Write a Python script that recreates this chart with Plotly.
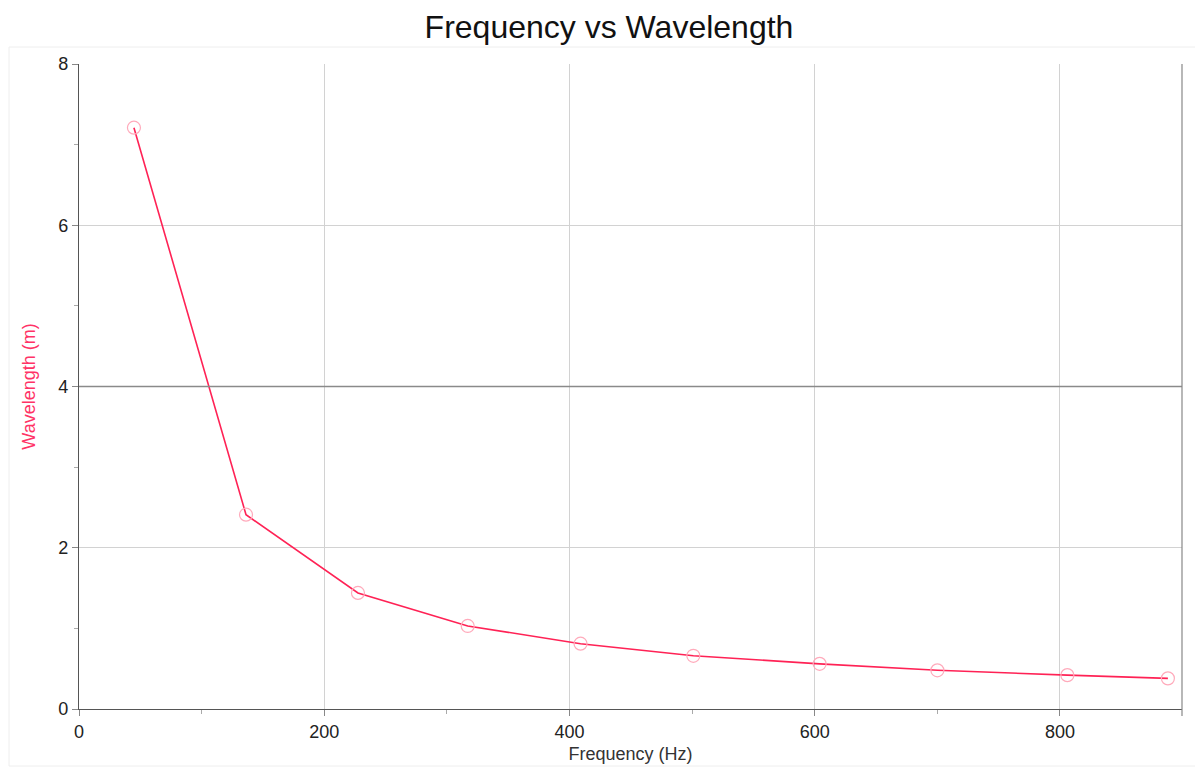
import plotly.graph_objects as go

frequency_hz = [44.8, 136.2, 227.5, 317, 409, 501, 604, 700, 806, 888]
wavelength_m = [7.21, 2.41, 1.44, 1.03, 0.81, 0.66, 0.56, 0.48, 0.42, 0.38]

x_ticks = [0, 200, 400, 600, 800]
y_ticks = [0, 2, 4, 6, 8]

# page body has an 8px margin; figure sized to fit the window
OFF = 8
W, H = 1203 - OFF, 767 - OFF
L, R, T, B = 79 - OFF, 1182 - OFF, 64 - OFF, 709 - OFF

fig = go.Figure()
fig.add_trace(go.Scatter(
    x=frequency_hz, y=wavelength_m, mode="lines+markers",
    line=dict(color="#ff2255", width=1.6),
    marker=dict(symbol="circle-open", size=13, color="#ffaabb", line=dict(width=1.2)),
    showlegend=False,
))

def px2x(p):
    return (p - OFF - L) / (R - L)

def py2y(p):
    return (B - (p - OFF)) / (B - T)

# faint outer frame
fig.add_shape(type="rect", xref="paper", yref="paper",
              x0=px2x(9), x1=px2x(1199), y0=py2y(766), y1=py2y(47),
              line=dict(color="#eeeeee", width=1), layer="below")
# darker gridline at 4
fig.add_shape(type="line", xref="paper", yref="y", x0=0, x1=1, y0=4, y1=4,
              line=dict(color="#8a8a8a", width=1.3), layer="above")

FONT = "Liberation Sans, Arial"
axis_common = dict(
    showline=True, linecolor="#555555", linewidth=1.2,
    showgrid=True, gridcolor="#d2d2d2", gridwidth=1.2,
    ticks="outside", ticklen=6, tickcolor="#888888",
    tickfont=dict(family=FONT, size=18, color="#222222"),
    zeroline=False, automargin=False,
)

fig.update_xaxes(**axis_common, range=[0, 899.5], tickvals=x_ticks,
                 minor=dict(ticks="outside", ticklen=4, tickcolor="#aaaaaa",
                            showgrid=False, tick0=100, dtick=200),
                 title=dict(text="Frequency (Hz)", standoff=6,
                            font=dict(family=FONT, size=18, color="#333333")))
fig.update_yaxes(**axis_common, range=[0, 8], tickvals=y_ticks,
                 minor=dict(ticks="outside", ticklen=4, tickcolor="#aaaaaa",
                            showgrid=False, tick0=1, dtick=2),
                 title=dict(text="Wavelength (m)", standoff=17,
                            font=dict(family=FONT, size=18, color="#ff3366")))

# right border
fig.add_shape(type="line", xref="paper", yref="paper", x0=1, x1=1, y0=py2y(716), y1=1,
              line=dict(color="#888888", width=1.2))

fig.update_layout(
    width=W, height=H,
    margin=dict(l=L, r=W - R, t=T, b=H - B),
    paper_bgcolor="white", plot_bgcolor="white",
    title=dict(text="Frequency vs Wavelength", x=(609 - OFF) / W, xref="container",
               y=1 - (27 - OFF) / H, yanchor="middle", xanchor="center",
               font=dict(family=FONT, size=32, color="#111111")),
)

fig.write_html("out.html")
